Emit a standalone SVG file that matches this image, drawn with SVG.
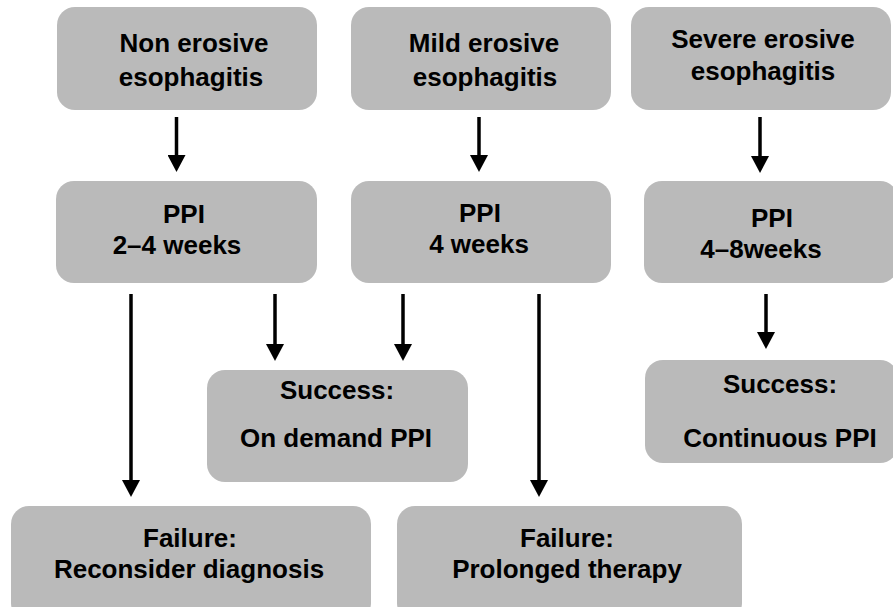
<svg xmlns="http://www.w3.org/2000/svg" width="893" height="607" viewBox="0 0 893 607">
<style>
.box{fill:#bababa;}
.t{font-family:"Liberation Sans",Arial,Helvetica,sans-serif;font-weight:bold;font-size:26px;fill:#000;text-anchor:middle;}
.c{stroke:#000;stroke-width:3.5;fill:none;}
</style>
<defs>
<marker id="ah" markerUnits="userSpaceOnUse" markerWidth="18" markerHeight="18" refX="1" refY="9" orient="auto" viewBox="0 0 18 18">
<path d="M0,0 L17,9 L0,18 z" fill="#000"/>
</marker>
</defs>
<rect width="893" height="607" fill="#fff"/>
<g id="n1"><rect class="box" x="57" y="7" width="260" height="103" rx="18"/><text class="t" x="194" y="52">Non erosive</text><text class="t" x="191" y="86">esophagitis</text></g>
<g id="n2"><rect class="box" x="351" y="7" width="260" height="103" rx="18"/><text class="t" x="484" y="52">Mild erosive</text><text class="t" x="485" y="86">esophagitis</text></g>
<g id="n3"><rect class="box" x="631" y="7" width="260" height="103" rx="18"/><text class="t" x="763" y="48">Severe erosive</text><text class="t" x="763" y="80">esophagitis</text></g>
<g id="n4"><rect class="box" x="56" y="181" width="261" height="102" rx="18"/><text class="t" x="184" y="223">PPI</text><text class="t" x="177" y="254">2–4 weeks</text></g>
<g id="n5"><rect class="box" x="351" y="181" width="260" height="102" rx="18"/><text class="t" x="480" y="222">PPI</text><text class="t" x="479" y="253">4 weeks</text></g>
<g id="n6"><rect class="box" x="644" y="181" width="254" height="102" rx="18"/><text class="t" x="772" y="227">PPI</text><text class="t" x="761" y="258">4–8weeks</text></g>
<g id="n7"><rect class="box" x="207" y="370" width="261" height="112" rx="18"/><text class="t" x="337" y="399">Success:</text><text class="t" x="336" y="447">On demand PPI</text></g>
<g id="n8"><rect class="box" x="645" y="360" width="253" height="103" rx="18"/><text class="t" x="780" y="393">Success:</text><text class="t" x="780" y="447">Continuous PPI</text></g>
<g id="n9"><rect class="box" x="11" y="506" width="360" height="115" rx="18"/><text class="t" x="190" y="547">Failure:</text><text class="t" x="189" y="578">Reconsider diagnosis</text></g>
<g id="n10"><rect class="box" x="397" y="506" width="345" height="115" rx="18"/><text class="t" x="567" y="547">Failure:</text><text class="t" x="567" y="578">Prolonged therapy</text></g>
<g id="connectors">
<line class="c" x1="176.5" y1="117" x2="176.5" y2="156" marker-end="url(#ah)"/>
<line class="c" x1="479" y1="117" x2="479" y2="156" marker-end="url(#ah)"/>
<line class="c" x1="760" y1="117" x2="760" y2="157" marker-end="url(#ah)"/>
<line class="c" x1="131" y1="294" x2="131" y2="481" marker-end="url(#ah)"/>
<line class="c" x1="275" y1="294" x2="275" y2="345" marker-end="url(#ah)"/>
<line class="c" x1="403" y1="294" x2="403" y2="345" marker-end="url(#ah)"/>
<line class="c" x1="539" y1="294" x2="539" y2="481" marker-end="url(#ah)"/>
<line class="c" x1="766" y1="294" x2="766" y2="333" marker-end="url(#ah)"/>
</g>
</svg>
